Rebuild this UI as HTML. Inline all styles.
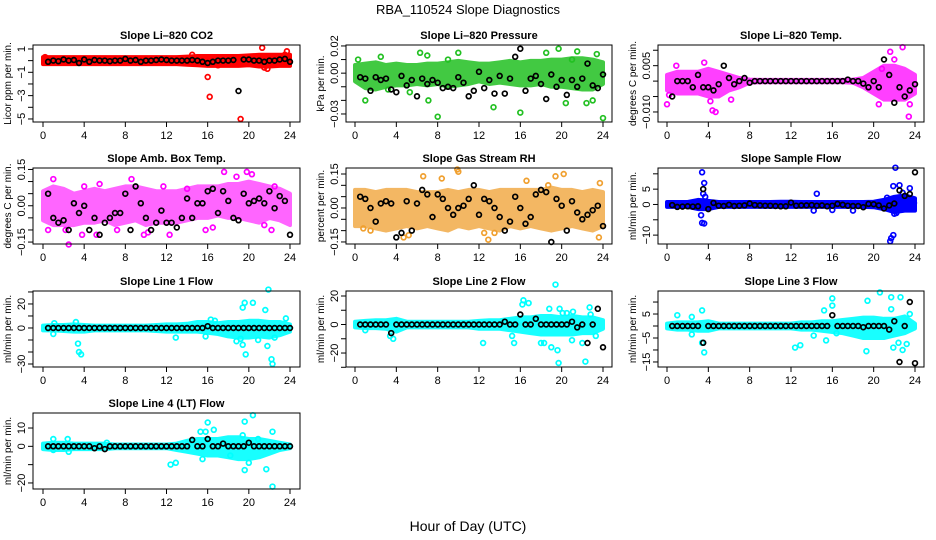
<!DOCTYPE html>
<html><head><meta charset="utf-8"><style>
html,body{margin:0;padding:0;background:#fff;}
svg{display:block;font-family:"Liberation Sans",Arial,sans-serif;}
</style></head><body>
<svg id="chart" width="936" height="540" viewBox="0 0 936 540" xmlns="http://www.w3.org/2000/svg">
<rect width="936" height="540" fill="#fff"/>
<text x="468" y="14" font-size="13" text-anchor="middle">RBA_110524  Slope Diagnostics</text>
<text x="468" y="531" font-size="14" text-anchor="middle">Hour of Day (UTC)</text>
</svg>
<script>
const xTicks=[0,4,8,12,16,20,24];
// CO2
const co2Hi=[0.3,0.3,0.3,0.3,0.3,0.3,0.3,0.3,0.3,0.3,0.3,0.3,0.3,0.3,0.35,0.4,0.4,0.4,0.4,0.4,0.45,0.5,0.5,0.5,0.5];
const co2Lo=[-0.3,-0.3,-0.3,-0.3,-0.3,-0.3,-0.3,-0.3,-0.3,-0.3,-0.3,-0.3,-0.3,-0.3,-0.35,-0.4,-0.45,-0.45,-0.45,-0.45,-0.4,-0.5,-0.5,-0.45,-0.45];
const co2OutH=[14.5,16,16.2,19.2,21.3,21.5,23.7,23.5,0.2,17,21.8];
const co2OutV=[0.5,-1.4,-3.1,-5,1.1,-0.6,0.8,0.5,0.3,-0.4,-0.7];
const co2Black=[-0.1,0,-0.05,0.1,0,0.05,-0.2,0.1,-0.1,0.05,0,0,-0.05,0,0,0.15,0,0.05,-0.1,0,0,0.05,0.1,0.05,0,0,0,0,0.05,0,-0.1,-0.2,-0.1,0,0,0,0.05,-2.6,0.1,0.1,0,0,-0.1,0,0,0.1,0.15,-0.1];
// Pressure
const prsHi=[0.006,0.007,0.008,0.006,0.007,0.006,0.006,0.007,0.007,0.008,0.009,0.008,0.007,0.007,0.008,0.009,0.008,0.009,0.009,0.01,0.01,0.011,0.011,0.01,0.008];
const prsLo=[-0.006,-0.011,-0.012,-0.01,-0.009,-0.009,-0.008,-0.009,-0.008,-0.01,-0.009,-0.008,-0.006,-0.008,-0.007,-0.008,-0.009,-0.009,-0.008,-0.01,-0.01,-0.011,-0.012,-0.012,-0.008];
const prsOutH=[0.3,1,2.5,6.3,7,7.1,8,10,13.4,16,18.5,19.7,20.4,21.5,22.4,23.4,24,23,9,21,3.2,5.3];
const prsOutV=[0.01,-0.02,0.012,0.015,0.013,-0.02,-0.032,0.015,-0.025,-0.029,0.015,0.018,-0.022,0.016,-0.022,0.014,-0.033,-0.02,0.01,0.01,-0.012,-0.014];
const prsBlack=[-0.003,-0.004,-0.013,-0.003,-0.005,-0.004,-0.012,-0.014,-0.002,-0.009,-0.005,-0.017,-0.004,-0.008,-0.005,-0.007,-0.011,-0.01,-0.011,-0.003,-0.007,-0.017,-0.013,0.001,-0.011,-0.005,-0.015,-0.002,-0.015,-0.004,0.012,0.018,-0.013,-0.004,-0.002,-0.008,-0.019,-0.001,-0.01,-0.005,-0.016,-0.005,-0.01,-0.004,0.007,-0.009,-0.011,-0.001];
// Li-820 Temp
const tmpHi=[0.002,0.003,0.003,0.003,0.004,0.003,0.002,0.001,0.0005,0.0004,0.0004,0.0004,0.0004,0.0004,0.0004,0.0004,0.0004,0.0004,0.0005,0.001,0.003,0.005,0.005,0.004,0.002];
const tmpLo=[-0.003,-0.004,-0.004,-0.004,-0.005,-0.005,-0.003,-0.002,-0.0005,-0.0004,-0.0004,-0.0004,-0.0004,-0.0004,-0.0004,-0.0004,-0.0004,-0.0004,-0.0005,-0.002,-0.004,-0.006,-0.006,-0.006,-0.004];
const tmpOutH=[0,0.2,0.9,3.6,4.2,4.4,4.7,6.2,20.5,20.8,21.6,22.8,23.4,23.5,22];
const tmpOutV=[-0.0075,-0.0045,0.005,0.006,-0.0065,-0.0095,-0.01,-0.006,-0.0075,0.004,0.0095,0.011,-0.0115,-0.0075,0.007];
const tmpBlack=[-0.005,0,0,0,-0.002,0.002,-0.002,-0.002,-0.003,-0.001,0.005,0.001,-0.001,0,0.001,-0.0005,0,0,0,0,0,0,0,0,0,0,0,0,0,0,0,0,0,0,0.0005,0,0,-0.0008,-0.002,0,-0.002,0.007,0.002,-0.007,-0.002,-0.005,-0.003,-0.001];
// Amb box temp
const ambHi=[0.06,0.08,0.07,0.05,0.06,0.07,0.06,0.07,0.08,0.08,0.07,0.06,0.06,0.06,0.07,0.08,0.08,0.08,0.09,0.09,0.1,0.09,0.08,0.07,0.05];
const ambLo=[-0.06,-0.08,-0.08,-0.08,-0.07,-0.07,-0.06,-0.08,-0.07,-0.06,-0.08,-0.07,-0.07,-0.07,-0.06,-0.05,-0.05,-0.04,-0.05,-0.05,-0.06,-0.07,-0.05,-0.06,-0.08];
const ambOutH=[1,2.2,2.5,3.8,5.2,5.5,8.6,7.2,9.8,10.2,12.3,11.7,15.8,16.5,17.6,18.8,19.8,20.3,22.2,22.5,0.5,4,14,21.5];
const ambOutV=[0.11,-0.1,-0.16,-0.12,-0.12,0.09,0.11,-0.1,-0.12,-0.11,-0.12,0.08,-0.1,-0.09,0.14,0.12,0.14,0.13,-0.1,0.08,-0.1,0.08,0.07,-0.08];
const ambBlack=[0.05,-0.05,-0.07,-0.06,-0.1,0.01,-0.03,0,-0.1,-0.05,-0.12,-0.07,-0.05,-0.03,-0.03,0.05,-0.1,0.08,0.01,-0.05,-0.1,-0.07,-0.02,-0.07,-0.07,-0.09,-0.05,0.03,-0.05,0.01,0.01,0.06,0.07,-0.03,0.06,0.02,-0.05,-0.06,0.05,0.01,0.02,0.03,0.01,0.06,-0.01,0.04,0.02,-0.12];
// Gas stream RH
const rhHi=[0.08,0.08,0.07,0.08,0.08,0.08,0.07,0.07,0.07,0.08,0.07,0.08,0.08,0.07,0.08,0.08,0.08,0.08,0.08,0.09,0.08,0.08,0.07,0.08,0.07];
const rhLo=[-0.08,-0.08,-0.09,-0.1,-0.09,-0.08,-0.09,-0.08,-0.09,-0.1,-0.08,-0.09,-0.08,-0.09,-0.1,-0.08,-0.09,-0.08,-0.09,-0.1,-0.09,-0.08,-0.09,-0.1,-0.08];
const rhOutH=[4.7,5.2,6.6,8.4,9.9,10,12.9,12.5,16.6,19.4,20.2,23.7,23.6,0.8,1.5,13.5,18.7];
const rhOutV=[-0.13,-0.12,0.14,0.13,0.17,0.16,-0.14,-0.11,0.12,0.14,0.15,0.11,-0.13,-0.09,-0.1,-0.11,0.1];
const rhBlack=[0.05,0.04,0,-0.06,0.02,0.03,0.02,-0.13,-0.11,0.03,-0.1,0.02,0.08,0.06,-0.04,0.06,0.04,0,-0.03,0,0.01,0.04,0.1,-0.03,0.04,0.03,0,-0.04,-0.1,-0.06,0.05,0,-0.07,-0.04,0.06,0.08,0.07,-0.15,0.04,0.01,-0.1,0.03,-0.02,-0.05,-0.03,-0.01,0.01,-0.08];
// Sample flow
const sfHi=[0.8,0.8,0.8,1.5,1.2,0.8,0.8,0.8,0.8,0.8,0.8,0.9,0.9,0.8,0.8,0.8,0.8,0.8,0.8,0.8,0.9,1.5,2.5,3,2];
const sfLo=[-0.8,-0.8,-0.8,-1.5,-1.5,-0.8,-0.8,-0.8,-0.8,-0.8,-0.8,-0.8,-0.8,-0.8,-0.8,-0.8,-0.8,-0.8,-0.8,-0.8,-0.9,-1.5,-2.5,-2,-2];
const sfOutH=[3.4,3.6,3.5,3.7,3.3,3.4,3.6,14.5,14.2,16,18,21.6,21.7,21.9,22,22.2,22.1,22.5,21.9,23.5,23.9,21.3,22.8];
const sfOutV=[10.5,7,3.5,2.5,-3.5,-6,-6.2,3.5,-2,-1.8,-2,-12,-11,-10,-3,-2.8,12,6.3,6,5.3,0.5,2.2,3.8];
const sfBlack=[-0.2,-0.8,-0.7,-0.6,-0.7,-0.6,5,-1.5,0.5,-0.4,-0.5,-0.1,-0.5,-0.4,-0.3,0.3,-0.2,-0.3,-0.4,-0.4,-0.5,-0.6,-0.6,0.6,-0.4,-0.3,-0.3,-0.2,-0.4,-0.3,-0.6,-0.4,0.2,-0.1,-0.4,-0.5,-0.5,-0.9,0.2,0.1,-0.3,-1.3,-0.3,0.3,4.6,2.8,3.4,10.5];
// Line 1
const l1Hi=[2,2.5,2.5,3,2.5,2,2,2,2,2,2,2.5,3,3,3.5,5,5,4,5,5,6,6,5,5,3];
const l1Lo=[-2,-2,-2.5,-3,-3,-2,-2,-2,-2,-2,-2,-2.5,-3,-3,-3,-3,-4,-5,-7,-8,-8,-7,-8,-6,-3];
const l1OutH=[1,1.1,3.2,3.4,3.5,3.7,12.9,15.8,16.3,16.7,19.4,19.6,19.7,20.4,19.4,19.2,21.6,21.9,21.8,22.2,22.3,22.5,23.6,20.9,18.8];
const l1OutV=[-5,4,5,-13,-20,-22,-8,-7,7,6,17,21,-22,21,-14,-9,15,32,-15,-26,-30,-8,8,-10,-11];
const l1Black=[0,0,0,0,0,0,0,0,0,0,0,0,0,0,0,0,0,0,0,0,0,0,0,0,0,0,0,0,0,0,0,1.5,0,0,0,0,0,0,0,0,0,0,0,0,0,0,0,0];
// Line 2
const l2Hi=[2,2.5,3,3,4,2,2,2,2,2,2,2,2.5,3,3,4,5,5,6,6,5,6,5,5,3];
const l2Lo=[-2,-2.5,-2.5,-3,-5,-2,-2,-2,-2,-2,-2,-2,-3,-3,-3,-4,-5,-6,-7,-7,-7,-7,-6,-6,-3];
const l2OutH=[1,3.7,3.4,12.4,15.2,15.4,16.3,16.2,16.8,18,18.3,18.8,19,19.4,19.6,19.7,19.8,20.1,20.5,21.1,21,22.3,22.7,22.8,23.3,22];
const l2OutV=[-4,-10,-8,-13,-8,-13,17,14,15,-13,-13,11,-16,28,-18,-27,11,8,8,9,-11,-26,12,7,-8,-13];
const l2Black=[0,0,0,0,0,0,-6,0,0,0,0,0,0,0,0,0,0,0,0,0,0,0,0,0,0,0,0,0,2,0,0,7,0,0,4,0,0,0,0,0,0,2,-2,0,-13,0,11,-16];
// Line 3
const l3Hi=[1,1.5,1.5,1.5,2,1,1,1,1,1,1,1,1,1.5,1.5,2,2,2.5,3,3.5,3.5,3,3,4,1];
const l3Lo=[-1,-1.5,-1.5,-2,-2,-1,-1,-1,-1,-1,-1,-1,-1,-1.5,-1.5,-2,-2.5,-3,-4,-5,-5,-5,-4,-3,-1];
const l3OutH=[1,2.4,2.4,3.4,3.4,3.6,12.4,12.9,14.2,15.2,15.4,16,16,16.4,19.3,19.4,20.6,21.7,21.9,21.7,22.6,22.8,23.2,23.5,22.4];
const l3OutV=[4.5,3.8,-3.5,6.5,-7,-11,-9,-8,-4,6.5,-6,8.5,11.5,-3,-10.5,10.5,14,7,-9,12,12,-10,-7.5,5,-7];
const l3Black=[0,0,0,0,0,0,-7,0,0,0,0,0,0,0,0,0,0,0,0,0,0,0,0,0,0,0,0,0,0,0,0,4.5,0,0,0,0,0,-0.5,0,0,0,0,-1.5,2,-15,0,10,-15.5];
// Line 4
const l4Hi=[1.5,2,2,1.5,1.5,1.5,1.5,1,1,1,1,1,1,1.5,3,4,4,4,5,5,4,4,3,2,1];
const l4Lo=[-1.5,-2,-2,-1.5,-1.5,-1.5,-1.5,-1,-1,-1,-1,-1,-1,-2,-3,-4,-5,-5,-6,-7,-7,-6,-4,-2,-1];
const l4OutH=[1,1,2.4,2.5,6.2,12.4,12.9,15.3,15.8,16,16.6,15.5,19.4,19.6,19.6,20,20.4,21.7,22.3,22.3,18.2,20.9];
const l4OutV=[4,-2,4,-3,2,-10,-9,8,8,13,9,-7,6,13.5,-13,-9,17,-12.5,8,-22,-5,4];
const l4Black=[0,0,0,0,0,0,0,0,0,-1,0,-1.5,0,0,0,0,0,0,0,0,0,0,0,0,0,0,0,0,3.5,0,0,4,0,0,1.5,0,0,0,0,2,0,0,0,0,0,0,0,0];

const NS="http://www.w3.org/2000/svg";
const svg=document.getElementById('chart');
const cols=[{l:33,r:300,x0:43,x24:290},{l:346,r:612,x0:355,x24:603},{l:658,r:924,x0:667,x24:915}];
const rows=[{t:45,b:122},{t:168,b:244},{t:291,b:367},{t:413,b:489}];
const panels=[
 {id:'co2',title:'Slope Li\u2013820 CO2',ylab:'Licor ppm per min.',c:0,r:0,top:1.34,bot:-5.26,ticks:[1,0,-1,-2,-3,-4,-5],labs:['1','','\u22121','','\u22123','','\u22125'],col:'#ff0000',op:1,hi:co2Hi,lo:co2Lo,oh:co2OutH,ov:co2OutV,bk:co2Black},
 {id:'pressure',title:'Slope Li\u2013820 Pressure',ylab:'kPa per min.',c:1,r:0,top:0.0207,bot:-0.0359,ticks:[0.02,0.01,0,-0.01,-0.02,-0.03],labs:['0.02','','0.00','','','\u22120.03'],col:'#22c022',op:0.85,hi:prsHi,lo:prsLo,oh:prsOutH,ov:prsOutV,bk:prsBlack},
 {id:'li820-temp',title:'Slope Li\u2013820 Temp.',ylab:'degrees C per min.',c:2,r:0,top:0.0117,bot:-0.01325,ticks:[0.01,0.005,0,-0.005,-0.01],labs:['','0.005','','','\u22120.010'],col:'#ff00ff',op:0.75,hi:tmpHi,lo:tmpLo,oh:tmpOutH,ov:tmpOutV,bk:tmpBlack},
 {id:'amb-box-temp',title:'Slope Amb. Box Temp.',ylab:'degrees C per min.',c:0,r:1,top:0.156,bot:-0.158,ticks:[0.15,0.1,0.05,0,-0.05,-0.1,-0.15],labs:['0.15','','','0.00','','','\u22120.15'],col:'#ff00ff',op:0.6,hi:ambHi,lo:ambLo,oh:ambOutH,ov:ambOutV,bk:ambBlack},
 {id:'gas-stream-rh',title:'Slope Gas Stream RH',ylab:'percent per min.',c:1,r:1,top:0.1765,bot:-0.159,ticks:[0.15,0.1,0.05,0,-0.05,-0.1,-0.15],labs:['0.15','','','0.00','','','\u22120.15'],col:'#f0a030',op:0.75,hi:rhHi,lo:rhLo,oh:rhOutH,ov:rhOutV,bk:rhBlack},
 {id:'sample-flow',title:'Slope Sample Flow',ylab:'ml/min per min.',c:2,r:1,top:11.9,bot:-12.9,ticks:[10,5,0,-5,-10],labs:['','5','0','','\u221210'],col:'#0000ff',op:1,hi:sfHi,lo:sfLo,oh:sfOutH,ov:sfOutV,bk:sfBlack},
 {id:'line1-flow',title:'Slope Line 1 Flow',ylab:'ml/min per min.',c:0,r:2,top:30.8,bot:-32.5,ticks:[30,20,10,0,-10,-20,-30],labs:['','20','','0','','','\u221230'],col:'#00ffff',op:0.9,hi:l1Hi,lo:l1Lo,oh:l1OutH,ov:l1OutV,bk:l1Black},
 {id:'line2-flow',title:'Slope Line 2 Flow',ylab:'ml/min per min.',c:1,r:2,top:23.5,bot:-29.8,ticks:[20,10,0,-10,-20,-30],labs:['20','','0','','\u221220',''],col:'#00ffff',op:0.9,hi:l2Hi,lo:l2Lo,oh:l2OutH,ov:l2OutV,bk:l2Black},
 {id:'line3-flow',title:'Slope Line 3 Flow',ylab:'ml/min per min.',c:2,r:2,top:14.6,bot:-17.1,ticks:[10,5,0,-5,-10,-15],labs:['','5','','\u22125','','\u221215'],col:'#00ffff',op:0.9,hi:l3Hi,lo:l3Lo,oh:l3OutH,ov:l3OutV,bk:l3Black},
 {id:'line4-flow',title:'Slope Line 4 (LT) Flow',ylab:'ml/min per min.',c:0,r:3,top:18.2,bot:-23.3,ticks:[10,0,-10,-20],labs:['10','0','','\u221220'],col:'#00ffff',op:0.9,hi:l4Hi,lo:l4Lo,oh:l4OutH,ov:l4OutV,bk:l4Black}
];
function mk(tag,attrs,parent){const e=document.createElementNS(NS,tag);for(const k in attrs)e.setAttribute(k,attrs[k]);(parent||svg).appendChild(e);return e;}
panels.forEach(p=>{
 const C=cols[p.c],R=rows[p.r];
 const g=mk('g',{});
 
 
 const xs=h=>C.x0+(C.x24-C.x0)*h/24;
 const ys=v=>R.t+(p.top-v)/(p.top-p.bot)*(R.b-R.t);
 let d='';
 p.hi.forEach((v,i)=>{d+=(i?'L':'M')+xs(i).toFixed(1)+' '+ys(v).toFixed(1);});
 for(let i=p.lo.length-1;i>=0;i--)d+='L'+xs(i).toFixed(1)+' '+ys(p.lo[i]).toFixed(1);
 const band=mk('path',{d:d+'Z',fill:p.col,stroke:p.col,'stroke-width':4,'stroke-linejoin':'round',opacity:p.op},g);
 
 
 p.oh.forEach((h,i)=>{
  const c=mk('circle',{cx:xs(h).toFixed(1),cy:ys(p.ov[i]).toFixed(1),r:2.4,fill:'none',stroke:p.col,'stroke-width':1.7},g);
  
  
 });
 p.bk.forEach((v,i)=>{
  const c=mk('circle',{cx:xs((i+1)*0.5).toFixed(1),cy:ys(v).toFixed(1),r:2.4,fill:'none',stroke:'#000','stroke-width':1.7},g);
  
  
 });
 const fr=mk('rect',{x:C.l,y:R.t,width:C.r-C.l,height:R.b-R.t,fill:'none',stroke:'#000','stroke-width':1},g);
 
 
 xTicks.forEach(t=>{
  mk('line',{x1:xs(t),x2:xs(t),y1:R.b,y2:R.b+5,stroke:'#000'},g);
  const tx=mk('text',{x:xs(t),y:R.b+17,'font-size':11,'text-anchor':'middle'},g);
  tx.textContent=t;
  
  
 });
 p.ticks.forEach((t,i)=>{
  const y=ys(t);
  mk('line',{x1:C.l-5,x2:C.l,y1:y,y2:y,stroke:'#000'},g);
  if(p.labs[i]){
   const tx=mk('text',{x:0,y:0,'font-size':11,'text-anchor':'middle',transform:'translate('+(C.l-8)+','+y.toFixed(1)+') rotate(-90)'},g);
   tx.textContent=p.labs[i];
   
   
  }
 });
 const ti=mk('text',{x:(C.l+C.r)/2,y:R.t-6,'font-size':11,'font-weight':'bold','text-anchor':'middle'},g);
 ti.textContent=p.title;
 
 
 const yl=mk('text',{x:0,y:0,'font-size':10,'text-anchor':'middle',transform:'translate('+(C.l-22)+','+((R.t+R.b)/2)+') rotate(-90)'},g);
 yl.textContent=p.ylab;
 
 
});
</script>
</body></html>
